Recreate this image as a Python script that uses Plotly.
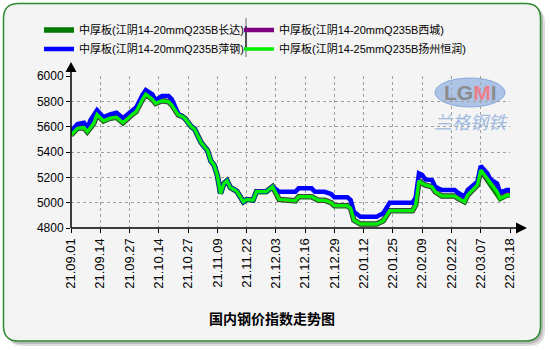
import plotly.graph_objects as go

# ---------------- data ----------------
tick_labels = ["21.09.01", "21.09.14", "21.09.27", "21.10.14", "21.10.27", "21.11.09",
               "21.11.22", "21.12.03", "21.12.16", "21.12.29", "22.01.12", "22.01.25",
               "22.02.09", "22.02.22", "22.03.07", "22.03.18"]
tick_index = [0, 9, 18, 27, 36, 45, 54, 63, 72, 81, 90, 99, 108, 117, 126, 135]  # trading-day index

# 中厚板(江阴14-25mmQ235B扬州恒润)  (bright green)
green_x = [0, 2, 4, 5, 7, 8, 10, 12, 14, 16, 19, 20, 22, 23, 25, 26, 28, 30, 31, 33,
           34, 35, 37, 38, 40, 42, 43, 44, 45, 46, 47, 48, 49, 51, 53, 54, 56, 57, 60, 61, 62,
           64, 69, 70, 74, 76, 78, 80, 81, 85, 86, 87, 89, 94, 96, 98, 105, 106, 107, 108,
           109, 111, 112, 114, 118, 119, 121, 122, 125, 126, 128, 129, 131, 132, 134, 135]
green_y = [5534, 5587, 5592, 5560, 5626, 5695, 5645, 5666, 5674, 5631, 5700, 5718, 5816, 5855, 5816, 5784, 5805, 5797, 5771, 5692,
           5684, 5666, 5600, 5581, 5475, 5412, 5330, 5297, 5215, 5073, 5150, 5173, 5120, 5090, 5007, 5024, 5020, 5086, 5086, 5105, 5126,
           5026, 5015, 5047, 5047, 5020, 5020, 5000, 4975, 4975, 4955, 4862, 4831, 4831, 4857, 4936, 4936, 4981, 5173, 5152,
           5139, 5126, 5086, 5052, 5052, 5034, 5007, 5060, 5139, 5257, 5184, 5157, 5086, 5034, 5060, 5060]

# 中厚板(江阴14-20mmQ235B长达)  (dark green) - runs with the Yangzhou Hengrun quote
darkgreen_x = list(green_x)
darkgreen_y = list(green_y)

# 中厚板(江阴14-20mmQ235B西城)  (purple)
purple_x = green_x[:green_x.index(128) + 1] + [129, 130, 131, 132, 134, 135]
purple_y = green_y[:green_x.index(128) + 1] + [5170, 5130, 5110, 5070, 5086, 5086]

# 中厚板(江阴14-20mmQ235B萍钢)  (blue)
blue_x = [0, 2, 4, 5, 6, 8, 10, 12, 14, 16, 19, 20, 22, 23, 25, 26, 28, 30, 31, 33,
          34, 35, 37, 38, 40, 42, 43, 44, 45, 46, 47, 48, 49, 51, 53, 54, 56, 57, 60, 61, 62,
          64, 69, 70, 74, 75, 78, 80, 81, 85, 86, 87, 89, 94, 96, 98, 105, 106, 107, 108,
          109, 111, 112, 114, 118, 119, 121, 122, 125, 126, 128, 129, 131, 132, 134, 135]
blue_y = [5565, 5621, 5631, 5587, 5652, 5731, 5674, 5697, 5710, 5666, 5731, 5750, 5850, 5889, 5855, 5810, 5842, 5842, 5816, 5700,
          5684, 5666, 5600, 5581, 5475, 5412, 5330, 5297, 5215, 5073, 5150, 5173, 5120, 5090, 5007, 5024, 5020, 5086, 5086, 5105, 5126,
          5086, 5086, 5113, 5113, 5086, 5086, 5068, 5042, 5042, 5020, 4928, 4889, 4889, 4916, 5000, 5000, 5040, 5231, 5218,
          5184, 5178, 5126, 5100, 5100, 5079, 5047, 5100, 5165, 5289, 5231, 5184, 5152, 5079, 5100, 5100]

names = ["中厚板(江阴14-20mmQ235B长达)", "中厚板(江阴14-20mmQ235B西城)",
         "中厚板(江阴14-20mmQ235B萍钢)", "中厚板(江阴14-25mmQ235B扬州恒润)"]
y_ticks = [4800, 5000, 5200, 5400, 5600, 5800, 6000]
title_text = "国内钢价指数走势图"

# ---------------- layout helpers (pixel -> paper) ----------------
W, H = 550, 350
L, R, T, B = 71, 510, 76, 228


def px(x):
    return (x - L) / (R - L)


def py(y):
    return (B - y) / (B - T)


def rrect(x0, y0, x1, y1, r):
    P = lambda x, y: f"{px(x):.5f},{py(y):.5f}"
    return (f"M{P(x0 + r, y0)} L{P(x1 - r, y0)} Q{P(x1, y0)} {P(x1, y0 + r)} "
            f"L{P(x1, y1 - r)} Q{P(x1, y1)} {P(x1 - r, y1)} L{P(x0 + r, y1)} "
            f"Q{P(x0, y1)} {P(x0, y1 - r)} L{P(x0, y0 + r)} Q{P(x0, y0)} {P(x0 + r, y0)} Z")


def tri(points):
    return "M" + " L".join(f"{px(a):.5f},{py(b):.5f}" for a, b in points) + " Z"


FONT = "Arial, 'Liberation Sans', 'Noto Sans CJK SC', sans-serif"

fig = go.Figure()
fig.add_trace(go.Scatter(x=darkgreen_x, y=darkgreen_y, name=names[0], mode="lines", legend="legend",
                         line=dict(color="#007a00", width=5.5)))
fig.add_trace(go.Scatter(x=purple_x, y=purple_y, name=names[1], mode="lines", legend="legend2",
                         line=dict(color="#800080", width=4.5)))
fig.add_trace(go.Scatter(x=blue_x, y=blue_y, name=names[2], mode="lines", legend="legend",
                         line=dict(color="#0000ff", width=4.5)))
fig.add_trace(go.Scatter(x=green_x, y=green_y, name=names[3], mode="lines", legend="legend2",
                         line=dict(color="#00ee00", width=3.5)))

shapes = []
# shadow + rounded frame
shapes.append(dict(type="path", xref="paper", yref="paper", layer="below",
                   path=rrect(7, 7, 545, 346, 16), fillcolor="rgba(120,120,120,0.25)", line=dict(width=0)))
shapes.append(dict(type="path", xref="paper", yref="paper", layer="below",
                   path=rrect(5.5, 5.5, 543, 344, 16), fillcolor="rgba(120,120,120,0.35)", line=dict(width=0)))
shapes.append(dict(type="path", xref="paper", yref="paper", layer="below",
                   path=rrect(3.5, 3.5, 540.5, 341, 15), fillcolor="#f4f4f4",
                   line=dict(color="#2f8a2f", width=1.5)))
# legend separator
shapes.append(dict(type="line", xref="paper", yref="paper", layer="above",
                   x0=px(246), x1=px(246), y0=py(18), y1=py(57),
                   line=dict(color="#9a9a9a", width=1.5)))
shapes.append(dict(type="line", xref="paper", yref="paper", layer="above",
                   x0=px(246), x1=px(246), y0=py(26), y1=py(48),
                   line=dict(color="#303030", width=1.5)))
# axes with arrows
shapes.append(dict(type="line", xref="paper", yref="paper", layer="above",
                   x0=0, x1=0, y0=0, y1=py(71), line=dict(color="black", width=1.5)))
shapes.append(dict(type="line", xref="paper", yref="paper", layer="above",
                   x0=0, x1=px(516), y0=0, y1=0, line=dict(color="black", width=1.5)))
shapes.append(dict(type="path", xref="paper", yref="paper", layer="above",
                   path=tri([(71, 62), (65.5, 72), (76.5, 72)]), fillcolor="black", line=dict(width=0)))
shapes.append(dict(type="path", xref="paper", yref="paper", layer="above",
                   path=tri([(527, 228), (516, 222.5), (516, 233.5)]), fillcolor="black", line=dict(width=0)))
# watermark ellipse
shapes.append(dict(type="circle", xref="paper", yref="paper", layer="below",
                   x0=px(435), x1=px(505), y0=py(107), y1=py(78),
                   fillcolor="rgba(135,170,225,0.65)", line=dict(color="rgba(110,150,210,0.7)", width=1)))

annotations = [
    dict(xref="paper", yref="paper", x=px(470), y=py(92), xanchor="center", yanchor="middle",
         showarrow=False,
         text="<b><span style='color:#8a8a8a'>LG</span><span style='color:#f07a85'>M</span>"
              "<span style='color:#8a8a8a'>I</span></b>",
         font=dict(family="Arial", size=21), opacity=0.95),
    dict(xref="paper", yref="paper", x=px(471), y=py(121), xanchor="center", yanchor="middle",
         showarrow=False,
         text="<i>兰格钢铁</i>", font=dict(family="Noto Sans CJK SC", size=18, color="#98b4de"),
         opacity=0.9),
]

legend_common = dict(orientation="h", xanchor="left", yanchor="top",
                     entrywidth=300, entrywidthmode="pixels", bgcolor="rgba(0,0,0,0)",
                     font=dict(family=FONT, size=11, color="black"), itemwidth=30,
                     tracegroupgap=0, traceorder="normal")

fig.update_layout(
    width=W, height=H,
    margin=dict(l=L, r=W - R, t=T, b=H - B, autoexpand=False),
    paper_bgcolor="white", plot_bgcolor="rgba(0,0,0,0)",
    shapes=shapes, annotations=annotations,
    showlegend=True,
    legend=dict(x=px(39), y=py(15.5), **legend_common),
    legend2=dict(x=px(239), y=py(15.5), **legend_common),
    title=dict(text="<b>" + title_text + "</b>", x=272 / W, y=1 - 319 / H, xanchor="center",
               yanchor="middle", xref="container", yref="container",
               font=dict(family="'Noto Sans CJK SC', sans-serif", size=14, color="black")),
    font=dict(family=FONT),
)

fig.update_xaxes(range=[0, 135], tickvals=tick_index, ticktext=tick_labels, tickangle=-90,
                 showgrid=True, gridcolor="#a0a0a0", griddash="dot", gridwidth=1,
                 ticks="outside", ticklen=4, tickcolor="black", showline=False, zeroline=False,
                 tickfont=dict(family=FONT, size=13, color="black"), automargin=False, fixedrange=True)
fig.update_yaxes(range=[4800, 6000], tickvals=y_ticks, ticktext=[str(v) for v in y_ticks],
                 showgrid=True, gridcolor="#a0a0a0", griddash="dot", gridwidth=1,
                 ticks="outside", ticklen=4, tickcolor="black", showline=False, zeroline=False,
                 tickfont=dict(family=FONT, size=12, color="black"), automargin=False, fixedrange=True)

fig.write_html("out.html", config={"displayModeBar": False})
